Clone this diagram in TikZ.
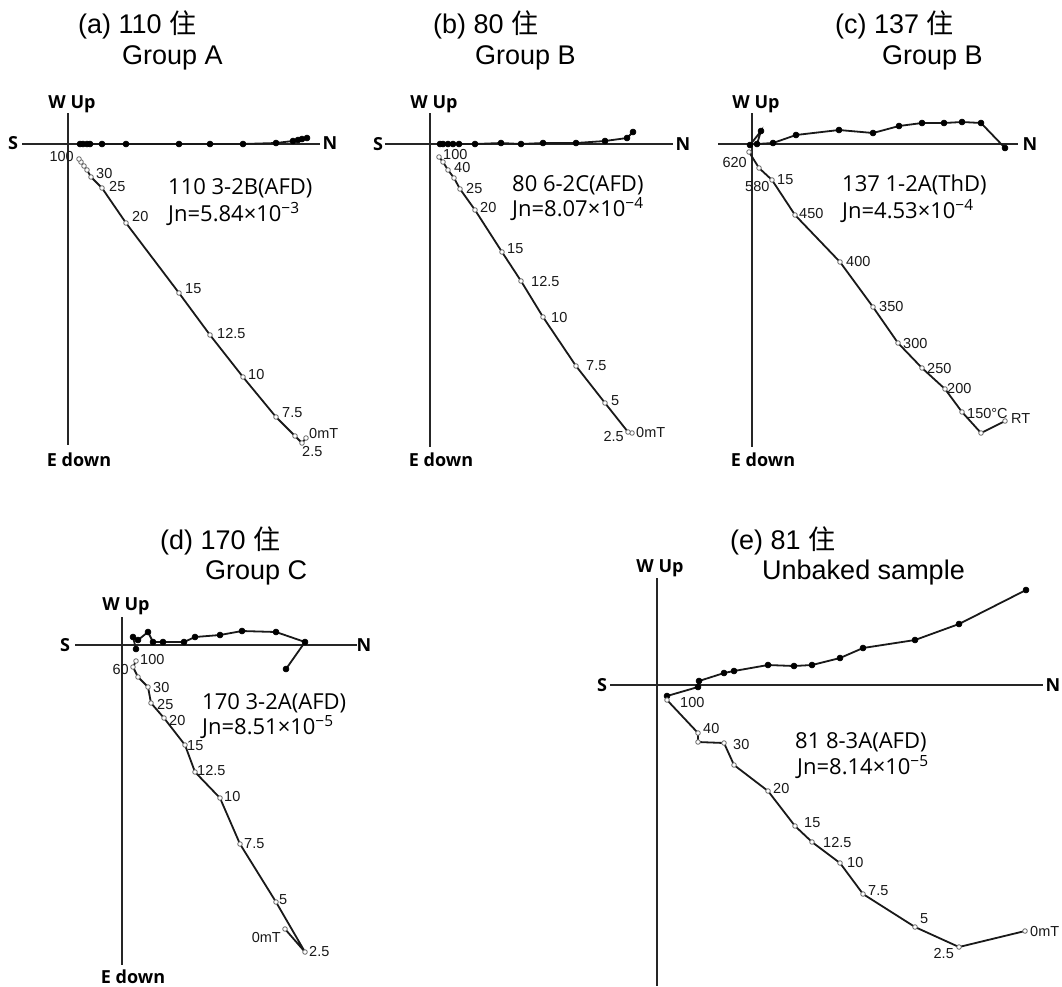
\documentclass[tikz,border=0pt]{standalone}
\usepackage{fontspec}
\setmainfont{Liberation Sans}
\newfontfamily\osans{Open Sans}
\newfontfamily\cjk{Noto Sans CJK SC}
\begin{document}
\begin{tikzpicture}[x=1pt,y=-1pt,
  axisline/.style={line width=2.6pt, black!85},
  dataline/.style={line width=1.8pt, black!90},
  hproj/.style={dataline, mark=*, mark size=3pt, mark options={fill=black, draw=black, line width=0.5pt}},
  vproj/.style={dataline, mark=*, mark size=2.3pt, mark options={fill=white, draw=black!60, line width=0.8pt}},
  axlab/.style={font=\osans\bfseries\fontsize{18}{18}\selectfont, inner sep=0},
  num/.style={font=\fontsize{14.5}{14.5}\selectfont, inner sep=0, text=black!90, anchor=west},
  numr/.style={num, anchor=east},
  samp/.style={font=\osans\fontsize{22}{22}\selectfont, inner sep=0, anchor=west},
  ttl/.style={font=\fontsize{27}{27}\selectfont, inner sep=0, anchor=west}]
\fill[white] (0,0) rectangle (1062,986);
\useasboundingbox (0,0) rectangle (1062,986);

% ---------------- (a) ----------------
\node[ttl] (ta1) at (78,25) {(a) 110 {\cjk 住}};
\node[ttl] (ta2) at (122,58) {Group A};
\draw[axisline] (68,113) -- (68,445);
\draw[axisline] (22,144) -- (320,144);
\node[axlab] (aw) at (72,104) {W Up};
\node[axlab] (ae) at (79,460) {E down};
\node[axlab] (as) at (13,143) {S};
\node[axlab] (an) at (330,143) {N};
\draw[hproj] plot coordinates {(307,138)(302,139)(298,140)(293,141)(276,143)(243,144)(210,144)(179,144)(126,144)(102,144)(90,144)(87,144)(83,144)(80,144)};
\draw[vproj] plot coordinates {(306,438)(302,443)(295,436)(276,417)(243,377)(210,335)(179,293)(126,223)(102,188)(91,177)(87,170)(84,166)(81,162)(79,159)};
\node[numr] (a100) at (74,157) {100};
\node[num] (a30) at (96,174) {30};
\node[num] (a25) at (109,187) {25};
\node[num] (a20) at (132,217) {20};
\node[num] (a15) at (185,289) {15};
\node[num] (a125) at (217,333) {12.5};
\node[num] (a10) at (248,374) {10};
\node[num] (a75) at (282,413) {7.5};
\node[num] (a0) at (309,433) {0mT};
\node[num] (a25b) at (302,451) {2.5};
\node[samp] (as1) at (168,188) {110 3-2B(AFD)};
\node[samp] (as2) at (168,214) {Jn=5.84×10\textsuperscript{−3}};

% ---------------- (b) ----------------
\node[ttl] (tb1) at (433,25) {(b) 80 {\cjk 住}};
\node[ttl] (tb2) at (475,58) {Group B};
\draw[axisline] (430,113) -- (430,447);
\draw[axisline] (385,144) -- (673,144);
\node[axlab] (bw) at (434,104) {W Up};
\node[axlab] (be) at (441,460) {E down};
\node[axlab] (bs) at (378,144) {S};
\node[axlab] (bn) at (683,144) {N};
\draw[hproj] plot coordinates {(633,132)(627,138)(605,141)(576,143)(543,143)(521,144)(501,143)(475,144)(459,144)(453,144)(448,144)(443,144)(440,144)};
\draw[vproj] plot coordinates {(632,433)(628,432)(605,403)(576,366)(543,317)(521,281)(502,252)(475,210)(460,189)(454,178)(448,170)(443,162)(439,157)};
\node[num] (b100) at (443,155) {100};
\node[num] (b40) at (454,168) {40};
\node[num] (b25) at (466,189) {25};
\node[num] (b20) at (480,208) {20};
\node[num] (b15) at (507,249) {15};
\node[num] (b125) at (531,282) {12.5};
\node[num] (b10) at (551,317) {10};
\node[num] (b75) at (586,366) {7.5};
\node[num] (b5) at (611,401) {5};
\node[numr] (b25b) at (624,436) {2.5};
\node[num] (b0) at (636,432) {0mT};
\node[samp] (bs1) at (512,185) {80 6-2C(AFD)};
\node[samp] (bs2) at (512,209) {Jn=8.07×10\textsuperscript{−4}};

% ---------------- (c) ----------------
\node[ttl] (tc1) at (835,25) {(c) 137 {\cjk 住}};
\node[ttl] (tc2) at (882,58) {Group B};
\draw[axisline] (752,113) -- (752,447);
\draw[axisline] (718,144) -- (1018,144);
\node[axlab] (cw) at (756,104) {W Up};
\node[axlab] (ce) at (763,460) {E down};
\node[axlab] (cn) at (1030,144) {N};
\draw[hproj] plot coordinates {(1005,148)(981,123)(962,122)(944,123)(922,123)(899,126)(873,133)(839,130)(796,135)(773,143)(757,144)(761,131)(750,145)};
\draw[vproj] plot coordinates {(1005,421)(981,433)(962,412)(945,389)(922,368)(898,343)(873,307)(840,262)(795,215)(772,180)(759,168)(749,152)};
\node[numr] (c620) at (747,163) {620};
\node[num] (c580) at (745,187) {580};
\node[num] (c15) at (777,180) {15};
\node[num] (c450) at (799,214) {450};
\node[num] (c400) at (846,262) {400};
\node[num] (c350) at (879,306) {350};
\node[num] (c300) at (903,343) {300};
\node[num] (c250) at (927,368) {250};
\node[num] (c200) at (947,388) {200};
\node[num] (c150) at (967,413) {150°C};
\node[num] (crt) at (1011,419) {RT};
\node[samp] (cs1) at (842,185) {137 1-2A(ThD)};
\node[samp] (cs2) at (842,211) {Jn=4.53×10\textsuperscript{−4}};

% ---------------- (d) ----------------
\node[ttl] (td1) at (160,541) {(d) 170 {\cjk 住}};
\node[ttl] (td2) at (205,573) {Group C};
\draw[axisline] (122,617) -- (122,965);
\draw[axisline] (75,645) -- (357,645);
\node[axlab] (dw) at (126,606) {W Up};
\node[axlab] (de) at (133,977) {E down};
\node[axlab] (ds) at (65,645) {S};
\node[axlab] (dn) at (364,645) {N};
\draw[hproj] plot coordinates {(286,669)(305,642)(276,632)(242,631)(220,635)(195,637)(184,642)(163,642)(153,642)(148,632)(138,640)(133,637)(136,649)};
\draw[vproj] plot coordinates {(285,929)(305,952)(276,902)(240,844)(220,798)(195,772)(185,745)(164,718)(151,703)(148,687)(138,677)(133,667)(136,661)};
\node[num] (d100) at (140,659) {100};
\node[numr] (d60) at (129,669) {60};
\node[num] (d30) at (153,687) {30};
\node[num] (d25) at (157,704) {25};
\node[num] (d20) at (169,720) {20};
\node[num] (d15) at (187,746) {15};
\node[num] (d125) at (197,770) {12.5};
\node[num] (d10) at (224,796) {10};
\node[num] (d75) at (244,844) {7.5};
\node[num] (d5) at (279,900) {5};
\node[numr] (d0) at (281,937) {0mT};
\node[num] (d25b) at (309,951) {2.5};
\node[samp] (ds1) at (202,703) {170 3-2A(AFD)};
\node[samp] (ds2) at (202,727) {Jn=8.51×10\textsuperscript{−5}};

% ---------------- (e) ----------------
\node[ttl] (te1) at (730,541) {(e) 81 {\cjk 住}};
\node[ttl] (te2) at (762,573) {Unbaked sample};
\draw[axisline] (657,578) -- (657,986);
\draw[axisline] (610,685) -- (1043,685);
\node[axlab] (ew) at (660,568) {W Up};
\node[axlab] (es) at (602,685) {S};
\node[axlab] (en) at (1053,685) {N};
\draw[hproj] plot coordinates {(1026,590)(959,624)(915,640)(863,648)(840,658)(812,665)(794,666)(768,665)(734,671)(724,673)(699,681)(698,687)(667,696)};
\draw[vproj] plot coordinates {(1025,931)(959,947)(915,927)(863,894)(840,863)(812,842)(795,826)(768,791)(734,765)(724,743)(698,742)(698,733)(667,700)};
\node[num] (e100) at (680,702) {100};
\node[num] (e40) at (703,728) {40};
\node[num] (e30) at (733,744) {30};
\node[num] (e20) at (773,788) {20};
\node[num] (e15) at (804,823) {15};
\node[num] (e125) at (823,842) {12.5};
\node[num] (e10) at (847,862) {10};
\node[num] (e75) at (868,891) {7.5};
\node[num] (e5) at (920,919) {5};
\node[numr] (e25b) at (954,953) {2.5};
\node[num] (e0) at (1030,931) {0mT};
\node[samp] (es1) at (795,742) {81 8-3A(AFD)};
\node[samp] (es2) at (797,767) {Jn=8.14×10\textsuperscript{−5}};
\end{tikzpicture}
\end{document}
